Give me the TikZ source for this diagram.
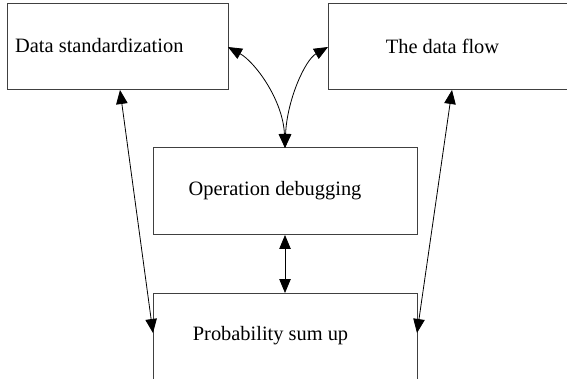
\documentclass[tikz,border=0pt]{standalone}
\usepackage{fontspec}
\setmainfont{Liberation Serif}
\usetikzlibrary{arrows.meta}
\begin{document}
\begin{tikzpicture}[x=1pt,y=-1pt,
  box/.style={draw=black!75,line width=1pt,inner sep=0pt,outer sep=0pt,fill=none},
  lbl/.style={font=\fontsize{20.4}{24}\selectfont,inner sep=0pt},
  conn/.style={line width=0.8pt,{Triangle[length=14pt,width=11.5pt]}-{Triangle[length=14pt,width=11.5pt]}}]
\useasboundingbox (0,0) rectangle (567,379);
\clip (0,0) rectangle (567,379);
\node[box,minimum width=221pt,minimum height=86pt] (b1) at (117.5,47) {};
\node[box,minimum width=272pt,minimum height=86pt] (b2) at (464,47) {};
\node[box,minimum width=264pt,minimum height=87pt] (b3) at (285,191.5) {};
\node[box,minimum width=264pt,minimum height=114pt] (b4) at (285,350) {};
\node[lbl,anchor=west] (t1) at (15,46) {Data standardization};
\node[lbl] (t2) at (442.5,46) {The data flow};
\node[lbl] (t3) at (275,191) {Operation debugging};
\node[lbl] (t4) at (270.5,336) {Probability sum up};
\draw[conn] (b1.east) .. controls (255,62) and (283,100) .. (b3.north);
\draw[conn] (b3.north) .. controls (287,100) and (305,60) .. (b2.west);
\draw[conn] (b3.south) -- (b4.north);
\draw[conn] ([xshift=113pt]b1.south west) -- ([yshift=-40pt]b4.north west);
\draw[conn] ([xshift=124pt]b2.south west) -- ([yshift=-40pt]b4.north east);
\end{tikzpicture}
\end{document}
